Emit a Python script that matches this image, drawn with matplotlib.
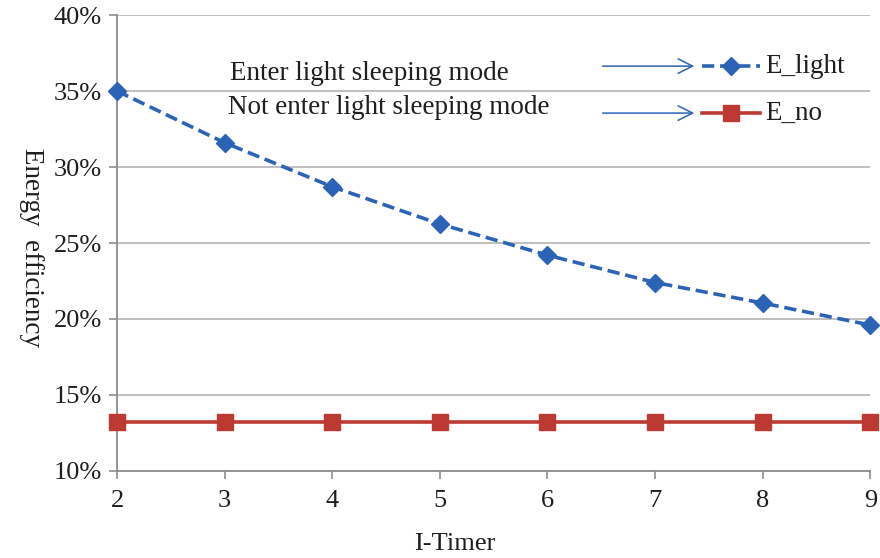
import numpy as np
import matplotlib.pyplot as plt
from matplotlib.ticker import PercentFormatter

# Data
timer = [2, 3, 4, 5, 6, 7, 8, 9]
e_light = [35.0, 31.6, 28.7, 26.25, 24.2, 22.4, 21.05, 19.6]
e_no = [13.2, 13.2, 13.2, 13.2, 13.2, 13.2, 13.2, 13.2]
y_ticks = [10, 15, 20, 25, 30, 35, 40]

blue = '#2b63b6'
red = '#bc3a32'
grey = '#b4b4b4'
ink = '#1e1e1e'

plt.rcParams['font.family'] = ['Liberation Serif', 'DejaVu Serif']

fig = plt.figure(figsize=(8.8, 5.58), dpi=100)
ax = fig.add_axes([0.133, 0.156, 0.856, 0.817])

# Create the two series
ax.plot(timer, e_light, color=blue, linestyle=(0, (3.4, 1.6)), linewidth=2.6,
        marker='D', markersize=9, clip_on=False, zorder=3)
ax.plot(timer, e_no, color=red, linewidth=2.6,
        marker='s', markersize=11, clip_on=False, zorder=3)

# Axes setup
ax.set_xlim(2, 9)
ax.set_ylim(10, 40)
ax.set_xticks(timer)
ax.set_yticks(y_ticks)
ax.yaxis.set_major_formatter(PercentFormatter(decimals=0))
ax.yaxis.grid(True, color=grey, linewidth=1.2)
ax.set_axisbelow(True)
for s in ['top', 'right']:
    ax.spines[s].set_visible(False)
for s in ['left', 'bottom']:
    ax.spines[s].set_color('#8c8c8c')
    ax.spines[s].set_linewidth(1.3)
ax.tick_params(axis='both', colors='#8c8c8c', length=6, width=1.2,
               labelsize=19, labelcolor=ink)
ax.tick_params(axis='x', pad=8)
ax.tick_params(axis='y', pad=5)

ax.set_xlabel('I-Timer', fontsize=19, color=ink)
ax.xaxis.set_label_coords(0.449, -0.136)
ax.set_ylabel('Energy  efficiency', fontsize=19.5, color=ink, rotation=-90)
ax.yaxis.set_label_coords(-0.130, 0.49)

# Hand-made legend with arrows
tr = ax.transAxes
ax.text(0.150, 0.872, 'Enter light sleeping mode', transform=tr,
        fontsize=19.5, color=ink, va='center')
ax.text(0.147, 0.797, 'Not enter light sleeping mode', transform=tr,
        fontsize=19.5, color=ink, va='center')
for y in [0.888, 0.785]:
    ax.annotate('', xy=(0.770, y), xytext=(0.641, y), xycoords=tr,
                arrowprops=dict(arrowstyle='->', color=blue, lw=1.1,
                                mutation_scale=26))
ax.plot([0.776, 0.854], [0.888, 0.888], transform=tr, color=blue,
        linestyle=(0, (3.4, 1.6)), linewidth=2.6, clip_on=False)
ax.plot([0.815], [0.888], transform=tr, color=blue, marker='D',
        markersize=9, clip_on=False)
ax.plot([0.776, 0.854], [0.785, 0.785], transform=tr, color=red,
        linewidth=2.6, clip_on=False)
ax.plot([0.815], [0.785], transform=tr, color=red, marker='s',
        markersize=11, clip_on=False)
ax.text(0.860, 0.888, 'E_light', transform=tr, fontsize=19.5,
        color=ink, va='center')
ax.text(0.860, 0.785, 'E_no', transform=tr, fontsize=19.5,
        color=ink, va='center')

plt.savefig('out.png', dpi=100)
